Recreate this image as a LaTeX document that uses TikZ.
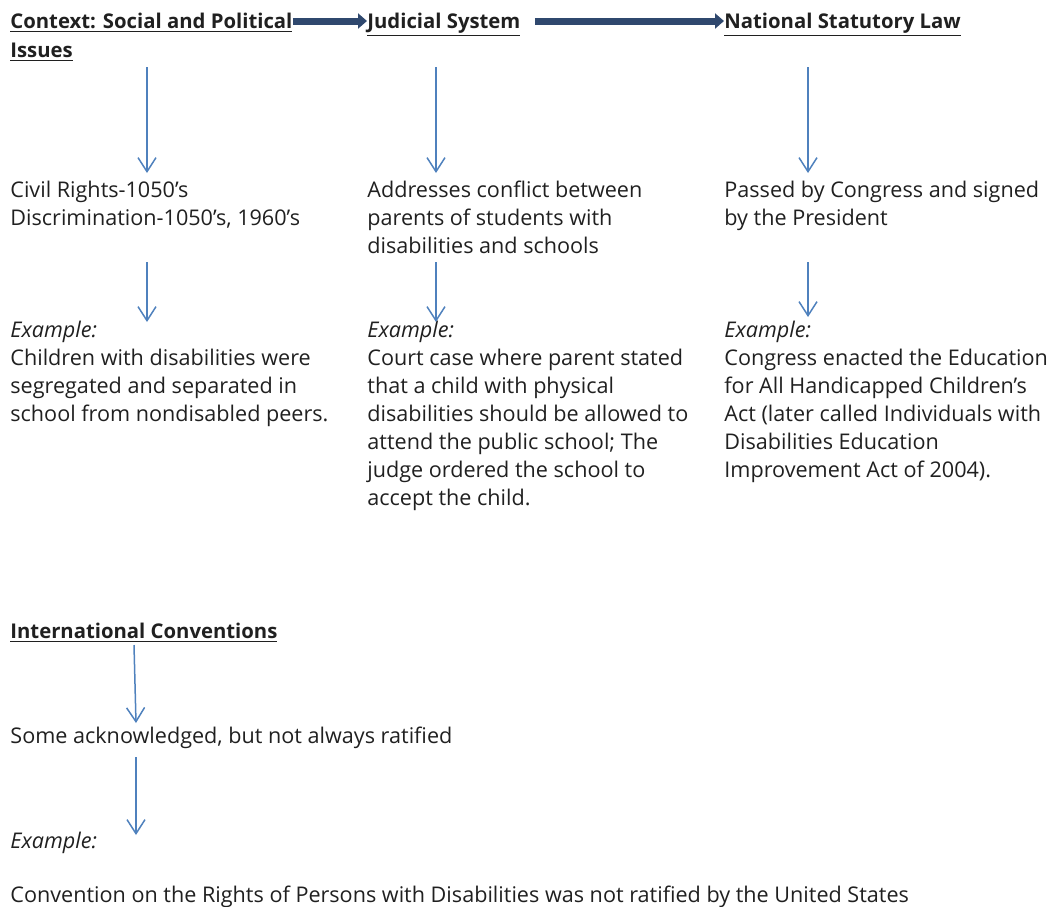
\documentclass[tikz,border=0pt]{standalone}
\usepackage{fontspec}
\setmainfont{Open Sans}
\usetikzlibrary{arrows.meta}
\definecolor{flowblue}{RGB}{79,129,189}
\definecolor{navyarrow}{RGB}{47,72,110}
\definecolor{inkgray}{RGB}{32,32,32}
\tikzset{
  txt/.style={anchor=base west, inner sep=0pt, text=inkgray, font=\fontsize{10.8}{14}\selectfont},
  head/.style={txt, font=\fontsize{10.15}{14.5}\selectfont\bfseries},
  body/.style={txt, align=left},
  down/.style={-{Straight Barb[length=7pt,width=9pt]}, flowblue, line width=0.75pt},
  link/.style={-{Triangle[length=4.5pt,width=7.5pt]}, navyarrow, line width=3.5pt},
}
\begin{document}
\begin{tikzpicture}[x=0.5pt, y=-0.5pt]
  \useasboundingbox (0,0) rectangle (1048,906);

  % Headings
  \node[head] (ctx) at (10,28) {\underline{Context: Social and Political}};
  \node[head] (ctx2) at (10,57) {\underline{Issues}};
  \node[head] (jud) at (367,28) {\underline{Judicial System}};
  \node[head] (nat) at (724,28) {\underline{National Statutory Law}};

  % Links between headings
  \draw[link] ([yshift=3.5pt]ctx.base east) -- ([yshift=3.5pt]jud.base west);
  \draw[link] ([xshift=7pt,yshift=3.5pt]jud.base east) -- ([yshift=3.5pt]nat.base west);

  % First row (anchored on the last line)
  \node[body] (civ) at (10,225) {Civil Rights-1050’s\\Discrimination-1050’s, 1960’s};
  \node[body] (adr) at (367,253) {Addresses conflict between\\parents of students with\\disabilities and schools};
  \node[body] (pas) at (724,225) {Passed by Congress and signed\\by the President};

  % Examples
  \node[body] (ex1) at (10,421) {\textit{Example:}\\Children with disabilities were\\segregated and separated in\\school from nondisabled peers.};
  \node[body] (ex2) at (367,505) {\textit{Example:}\\Court case where parent stated\\that a child with physical\\disabilities should be allowed to\\attend the public school; The\\judge ordered the school to\\accept the child.};
  \node[body] (ex3) at (724,477) {\textit{Example:}\\Congress enacted the Education\\for All Handicapped Children’s\\Act (later called Individuals with\\Disabilities Education\\Improvement Act of 2004).};

  % International
  \node[head] (intl) at (10,638) {\underline{International Conventions}};
  \node[txt] (ack) at (10,743) {Some acknowledged, but not always ratified};
  \node[txt] (ex4) at (10,848) {\textit{Example:}};
  \node[txt] (crpd) at (10,902) {Convention on the Rights of Persons with Disabilities was not ratified by the United States};

  % Arrow ends
  \coordinate (a1) at (147,67);  \coordinate (b1) at (147,173);
  \coordinate (a2) at (436,67);  \coordinate (b2) at (436,173);
  \coordinate (a3) at (808,67);  \coordinate (b3) at (808,173);
  \coordinate (c1) at (147,262); \coordinate (d1) at (147,322);
  \coordinate (c2) at (436,262); \coordinate (d2) at (436,322);
  \coordinate (c3) at (808,262); \coordinate (d3) at (808,317);
  \coordinate (e1) at (134,645); \coordinate (f1) at (136,723);
  \coordinate (g1) at (136,757); \coordinate (h1) at (136,835);

  % Downward arrows
  \foreach \s/\t in {a1/b1, a2/b2, a3/b3, c1/d1, c2/d2, c3/d3, e1/f1, g1/h1}
    \draw[down] (\s) -- (\t);
\end{tikzpicture}
\end{document}
